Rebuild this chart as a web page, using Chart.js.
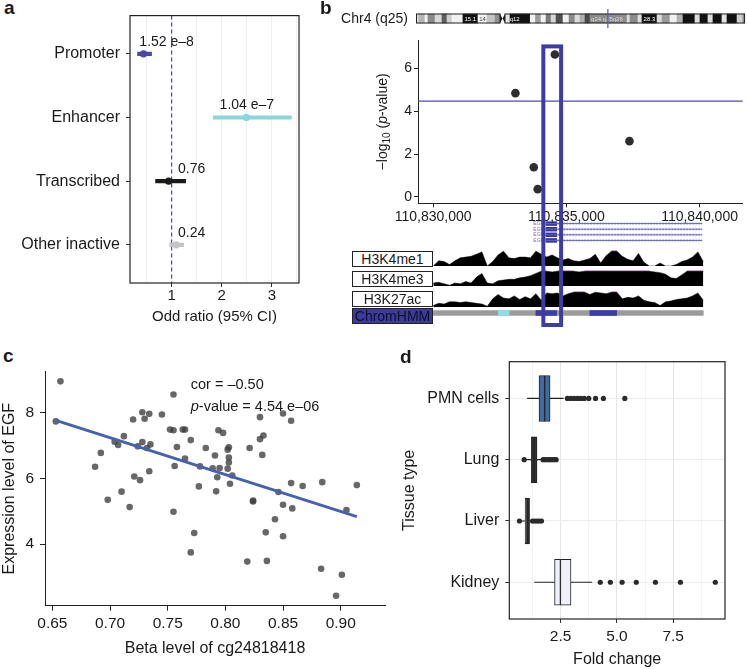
<!DOCTYPE html>
<html>
<head>
<meta charset="utf-8">
<script src="https://cdn.jsdelivr.net/npm/chart.js@4.4.1/dist/chart.umd.min.js"></script>
<style>
    body { margin: 0; background: #fff; font-family: "Liberation Sans", Arial, sans-serif; color: #1a1a1a; }
    #page { position: relative; width: 747px; height: 669px; overflow: hidden; }
    canvas { position: absolute; }
    .panel { position: absolute; font-weight: bold; font-size: 19px; }
    .txt { position: absolute; font-size: 14px; }
    .box { position: absolute; border: 1px solid #222; box-sizing: border-box; font-size: 14px; line-height: 14px; text-align: center; background: #fff; }
</style>
</head>
<body>
<div id="page">
    <div class="panel" style="left:4px;top:-3px">a</div>
    <canvas id="chartA" width="330" height="330" style="left:0;top:0"></canvas>

    <div class="panel" style="left:320px;top:-3px">b</div>
    <div class="txt" style="left:320px;top:10px;width:88px;text-align:right">Chr4 (q25)</div>
    <canvas id="chartIdeo" width="331" height="19" style="left:416px;top:9px"></canvas>
    <canvas id="chartGene" width="417" height="28" style="left:330px;top:218px"></canvas>
    <canvas id="track1" width="417" height="16" style="left:330px;top:250px"></canvas>
    <canvas id="track2" width="417" height="16" style="left:330px;top:270px"></canvas>
    <canvas id="track3" width="417" height="16" style="left:330px;top:291px"></canvas>
    <canvas id="chartHMM" width="417" height="16" style="left:330px;top:305px"></canvas>
    <div class="box" style="left:352px;top:251px;width:81px;height:16px">H3K4me1</div>
    <div class="box" style="left:352px;top:271px;width:81px;height:16px">H3K4me3</div>
    <div class="box" style="left:352px;top:291px;width:81px;height:16px">H3K27ac</div>
    <div class="box" style="left:352px;top:308px;width:81px;height:16px;background:#3b3b9c;color:#10102a">ChromHMM</div>
    <canvas id="chartB" width="417" height="305" style="left:330px;top:30px;z-index:5"></canvas>

    <div class="panel" style="left:3px;top:345px">c</div>
    <canvas id="chartC" width="390" height="329" style="left:0;top:340px"></canvas>

    <div class="panel" style="left:400px;top:346px">d</div>
    <canvas id="chartD" width="347" height="329" style="left:400px;top:340px"></canvas>
</div>

<script>
// 🔹 Panel a: odds ratios
const categories = ['Promoter', 'Enhancer', 'Transcribed', 'Other inactive'];
const oddRatio = [0.44, 2.49, 0.94, 1.09];
const ciLow = [0.32, 1.83, 0.68, 0.96];
const ciHigh = [0.60, 3.39, 1.28, 1.24];
const pLabels = ['1.52 e\u20138', '1.04 e\u20137', '0.76', '0.24'];
const pLabelX = [0.9, 2.5, 1.4, 1.4];
const colorsA = ['#4f46a8', '#8ad6df', '#1a1a1a', '#c4c4c4'];
const ticksA = [0.5, 1, 1.5, 2, 2.5, 3, 3.5];

// 🔹 Panel b: ideogram of chr4 (Mb)
const bandEdges = [0, 1.7, 5.2, 6.9, 11.0, 15.0, 17.9, 20.8, 27.1, 35.8, 41.0, 45.6, 48.5, 51.4, 54.3, 66.0, 69.0, 72.2, 75.1, 78.0,
    80.9, 84.9, 88.4, 91.8, 94.7, 97.6, 100.5, 121.9, 123.6, 128.2, 130.5, 139.2, 142.1, 146.7, 150.7, 154.2, 161.1, 164.0, 168.6, 171.5,
    176.7, 179.6, 185.4, 188.8, 190];
const bandShade = ['#dedede', '#b5b5b5', '#f2f2f2', '#8a8a8a', '#d9d9d9', '#5e5e5e', '#cfcfcf', '#f2f2f2', '#111111', '#f7f7f7',
    '#c4c4c4', '#8f8f8f', null, '#e6e6e6', '#111111', '#f2f2f2', '#9c9c9c', '#f2f2f2', '#7a7a7a', '#d6d6d6',
    '#4f4f4f', '#f2f2f2', '#8a8a8a', '#dcdcdc', '#b0b0b0', '#4a4a4a', '#8c8c8c', '#dcdcdc', '#8a8a8a', '#e0e0e0',
    '#111111', '#dadada', '#9a9a9a', '#f2f2f2', '#b3b3b3', '#111111', '#dcdcdc', '#111111', '#dcdcdc', '#111111',
    '#e4e4e4', '#111111', '#cfcfcf', '#8a8a8a'];
const centromere = [48.5, 51.4];
const chrLength = 190;
const bandLabels = ['15.1', '14', 'q12', 'q24', 'q25', 'q26', '28.3'];
const bandLabelPos = [31.4, 38.4, 57.0, 104.0, 110.8, 116.5, 134.8];
const locusMb = 110.8;

// 🔹 Panel b: association around EGF
const snpPos = [110833089, 110834570, 110833778, 110833926, 110837370];
const snpLogP = [4.84, 6.64, 1.38, 0.36, 2.60];
const threshold = 4.47;
const regionMin = 110829433;
const regionMax = 110841619;
const regionTicks = [110830000, 110835000, 110840000];
const highlight = [110834137, 110834804];
const highlightTop = 7.02;
const logPTicks = [0, 2, 4, 6];

// 🔹 Panel b: EGF transcripts
const transcripts = ['EGF', 'EGF', 'EGF', 'EGF'];
const geneStart = 110834160;
const exonEnd = 110834580;
const geneEnd = 110839960;

// 🔹 Panel b: histone tracks (kb from 110,830,000, relative signal)
const regionBase = 110830000;
const trackKb = [0, 0.2, 0.4, 0.6, 0.8, 1.0, 1.2, 1.4, 1.6, 1.8, 2.0, 2.2, 2.4, 2.6, 2.8, 3.0, 3.2, 3.4, 3.6, 3.8,
    4.0, 4.2, 4.4, 4.6, 4.8, 5.0, 5.2, 5.4, 5.6, 5.8, 6.0, 6.2, 6.4, 6.6, 6.8, 7.0, 7.2, 7.4, 7.6, 7.8,
    8.0, 8.2, 8.4, 8.6, 8.8, 9.0, 9.2, 9.4, 9.6, 9.8, 10.0];
const h3k4me1 = [0, 0.35, 0.3, 0.1, 0.35, 0.55, 0.6, 0.65, 0.8, 0.95, 0, 0.3, 0.75, 1, 0.55, 0.5, 0.6, 0.6, 0.55, 1,
    0.8, 0.6, 0.75, 0.55, 0.4, 0.5, 0.35, 0.3, 0.4, 0.5, 0.8, 0.2, 0.7, 1, 1, 0.65, 0.45, 0.35, 0.85, 0.25,
    0, 0, 0.2, 0, 0, 0.1, 0.3, 0.4, 0.6, 0.95, 0.3];
const h3k4me3 = [0.2, 0.25, 0.15, 0.05, 0.2, 0.15, 0.3, 0.2, 0.6, 0.85, 0.2, 0.15, 0.35, 0.4, 0.45, 0.45, 0.55, 0.6, 0.7, 0.85,
    1, 1, 0.95, 1, 1, 1, 1, 0.95, 1, 1, 1, 1, 1, 1, 1, 1, 1, 1, 1, 1,
    1, 0.95, 0.9, 0.8, 0.55, 0.5, 0.75, 1, 1, 1, 1];
const h3k27ac = [0.1, 0.25, 0.2, 0.35, 0.35, 0.3, 0.35, 0.3, 0.25, 0.2, 0.05, 0.55, 0.85, 0.6, 0.55, 0.75, 0.5, 0.7, 0.55, 0.9,
    0.45, 0.95, 0.9, 0.95, 0.75, 0.9, 1, 1, 1, 0.85, 1, 0.95, 0.9, 1, 1, 0.55, 0.65, 0.6, 0.75, 0.45,
    0.35, 0.3, 0.1, 0.35, 0.4, 0.5, 0.55, 0.6, 0.75, 0.95, 0.45];
const chromStart = [0, 2.41, 3.80, 5.80];
const chromEnd = [10, 2.81, 4.57, 6.79];
const chromColor = ['#9b9b9b', '#8fdde6', '#3d3daa', '#3d3daa'];

// 🔹 Panel c: methylation vs expression
const betaLevel = [0.657, 0.653, 0.692, 0.687, 0.698, 0.704, 0.707, 0.712, 0.710, 0.717,
    0.720, 0.721, 0.724, 0.726, 0.728, 0.728, 0.730, 0.732, 0.734, 0.734,
    0.735, 0.745, 0.752, 0.755, 0.755, 0.755, 0.756, 0.758, 0.763, 0.765,
    0.765, 0.770, 0.770, 0.773, 0.777, 0.778, 0.783, 0.789, 0.791, 0.792,
    0.793, 0.794, 0.795, 0.798, 0.802, 0.803, 0.803, 0.803, 0.802, 0.804,
    0.806, 0.821, 0.824, 0.824, 0.830, 0.830, 0.833, 0.832, 0.835, 0.836,
    0.819, 0.843, 0.846, 0.850, 0.850, 0.850, 0.857, 0.857, 0.858, 0.867,
    0.884, 0.883, 0.901, 0.896, 0.905, 0.914];
const exprLevel = [8.96, 7.74, 6.78, 6.36, 5.35, 7.12, 7.02, 7.29, 5.60, 5.13,
    7.80, 6.06, 6.98, 5.95, 8.02, 7.11, 7.82, 6.93, 7.97, 6.22,
    7.04, 7.95, 7.49, 8.56, 7.47, 4.99, 6.38, 6.96, 7.49, 7.49,
    6.61, 7.17, 3.75, 4.34, 5.76, 6.37, 6.93, 6.31, 6.70, 5.61,
    6.04, 7.47, 6.32, 7.39, 6.88, 6.95, 6.64, 6.49, 6.30, 5.84,
    6.09, 6.93, 5.30, 5.33, 7.87, 7.20, 7.31, 6.72, 4.36, 3.49,
    3.47, 4.76, 5.59, 7.98, 5.20, 4.24, 5.86, 7.76, 5.09, 5.77,
    5.89, 3.25, 3.07, 2.43, 5.04, 5.80];
const fitX = [0.653, 0.914];
const fitY = [7.77, 4.84];
const betaTicks = [0.65, 0.70, 0.75, 0.80, 0.85, 0.90];
const exprTicks = [4, 6, 8];

// 🔹 Panel d: fold change per tissue
const tissues = ['PMN cells', 'Lung', 'Liver', 'Kidney'];
const boxQ1 = [1.54, 1.20, 0.92, 2.23];
const boxMedian = [1.79, 1.32, 1.00, 2.49];
const boxQ3 = [2.03, 1.45, 1.12, 2.96];
const whiskerLow = [1.01, 0.95, 0.78, 1.33];
const whiskerHigh = [2.63, 1.67, 1.22, 3.90];
const outliers = [
    [2.8, 2.95, 3.1, 3.25, 3.4, 3.55, 3.75, 4.05, 4.4, 5.35],
    [0.88, 1.72, 1.8, 1.9, 2.0, 2.1, 2.2, 2.3],
    [0.67, 1.25, 1.35, 1.45, 1.55, 1.65],
    [4.26, 4.71, 5.23, 5.86, 6.71, 7.82, 9.37]
];
const boxFill = ['#3b6ca6', '#333333', '#2b2b2b', '#eef0fa'];
const foldTicks = [1.25, 2.5, 3.75, 5, 6.25, 7.5, 8.75];

// 🔹 Defaults
const FONT = "'Liberation Sans', Arial, sans-serif";
Chart.defaults.font.family = FONT;
Chart.defaults.font.size = 14;
Chart.defaults.color = '#1a1a1a';
Chart.defaults.animation = false;
Chart.defaults.responsive = false;
Chart.defaults.plugins.legend.display = false;
Chart.defaults.plugins.tooltip.enabled = false;

const toTicks = list => s => { s.ticks = list.map(v => ({ value: v })); };
const withCommas = v => String(v).replace(/\B(?=(\d{3})+(?!\d))/g, ',');

const frame = {
    id: 'frame',
    afterDraw(chart) {
        const { ctx, chartArea: a } = chart;
        ctx.save();
        ctx.strokeStyle = '#222';
        ctx.lineWidth = 1.2;
        ctx.strokeRect(a.left, a.top, a.right - a.left, a.bottom - a.top);
        ctx.restore();
    }
};

// 🔸 Panel a
const extrasA = {
    id: 'extrasA',
    beforeDatasetsDraw(chart) {
        const { ctx, chartArea: a, scales: { x } } = chart;
        const px = x.getPixelForValue(1);
        ctx.save();
        ctx.strokeStyle = '#4b4ba8';
        ctx.lineWidth = 1.2;
        ctx.setLineDash([4, 3]);
        ctx.beginPath();
        ctx.moveTo(px, a.top);
        ctx.lineTo(px, a.bottom);
        ctx.stroke();
        ctx.restore();
    },
    afterDraw(chart) {
        const { ctx, scales: { x, y } } = chart;
        ctx.save();
        ctx.font = '14px ' + FONT;
        ctx.fillStyle = '#1a1a1a';
        ctx.textAlign = 'center';
        ctx.textBaseline = 'middle';
        pLabels.forEach((t, i) => {
            ctx.fillText(t, x.getPixelForValue(pLabelX[i]), y.getPixelForValue(i + 1) - 12);
        });
        ctx.restore();
    }
};

new Chart(document.getElementById('chartA'), {
    type: 'bar',
    data: {
        datasets: [
            {
                type: 'bar',
                data: categories.map((c, i) => ({ x: [ciLow[i], ciHigh[i]], y: i + 1 })),
                backgroundColor: colorsA,
                barThickness: 3.5,
                grouped: false
            },
            {
                type: 'scatter',
                data: categories.map((c, i) => ({ x: oddRatio[i], y: i + 1 })),
                backgroundColor: colorsA,
                borderWidth: 0,
                pointRadius: 3.6
            }
        ]
    },
    options: {
        indexAxis: 'y',
        layout: { padding: { top: 10, right: 31, left: 0, bottom: 0 } },
        scales: {
            x: {
                type: 'linear', min: 0.17, max: 3.54,
                afterBuildTicks: toTicks(ticksA),
                afterFit: s => { s.height = 47; },
                ticks: { callback: v => Number.isInteger(v) ? String(v) : '', font: { size: 15 }, padding: 0, autoSkip: false, maxRotation: 0 },
                grid: { color: '#efefef', tickLength: 4, tickColor: c => Number.isInteger(c.tick && c.tick.value) ? '#333' : 'rgba(0,0,0,0)' },
                border: { display: false },
                title: { display: true, text: 'Odd ratio (95% CI)', font: { size: 15 }, padding: { top: 0, bottom: 4 } }
            },
            y: {
                type: 'linear', min: 0.4, max: 4.6, reverse: true, offset: false,
                afterBuildTicks: toTicks([1, 2, 3, 4]),
                afterFit: s => { s.width = 130; },
                ticks: { callback: v => categories[v - 1], font: { size: 16 }, padding: 6, autoSkip: false },
                grid: { drawOnChartArea: false, offset: false, tickLength: 4, tickColor: '#333' },
                border: { display: false }
            }
        }
    },
    plugins: [extrasA, frame]
});

// 🔸 Panel b: ideogram
const ideoExtras = {
    id: 'ideoExtras',
    afterDatasetsDraw(chart) {
        const { ctx, scales: { x, y } } = chart;
        const yc = y.getPixelForValue(0);
        const h = 4.5;
        const x0 = x.getPixelForValue(0), x1 = x.getPixelForValue(chrLength);
        const cA = x.getPixelForValue(centromere[0]), cB = x.getPixelForValue(centromere[1]);
        const mid = (cA + cB) / 2;
        ctx.save();
        ctx.strokeStyle = '#222';
        ctx.lineWidth = 1;
        ctx.strokeRect(x0 + 0.5, yc - h, cA - x0 - 0.5, 2 * h);
        ctx.strokeRect(cB, yc - h, x1 - cB - 0.5, 2 * h);
        ctx.fillStyle = '#222';
        [cA, cB].forEach(edge => {
            ctx.beginPath();
            ctx.moveTo(edge, yc - h);
            ctx.lineTo(mid, yc);
            ctx.lineTo(edge, yc + h);
            ctx.closePath();
            ctx.fill();
        });
        ctx.font = '6px ' + FONT;
        ctx.textAlign = 'center';
        ctx.textBaseline = 'middle';
        bandLabels.forEach((t, i) => {
            const p = bandLabelPos[i];
            let k = 0;
            while (k < bandShade.length - 1 && bandEdges[k + 1] <= p) k++;
            const shade = bandShade[k] || '#fff';
            ctx.fillStyle = parseInt(shade.slice(1, 3), 16) < 0x70 ? '#fff' : (parseInt(shade.slice(1, 3), 16) < 0xb0 ? '#d8d8d8' : '#444');
            ctx.fillText(t, x.getPixelForValue(p), yc + 0.5);
        });
        const mx = x.getPixelForValue(locusMb);
        ctx.strokeStyle = '#5353c6';
        ctx.lineWidth = 1.2;
        ctx.beginPath();
        ctx.moveTo(mx, 0);
        ctx.lineTo(mx, chart.height);
        ctx.stroke();
        ctx.restore();
    }
};

new Chart(document.getElementById('chartIdeo'), {
    type: 'bar',
    data: {
        datasets: [{
            data: bandShade.map((c, i) => ({ x: [bandEdges[i], bandEdges[i + 1]], y: 0 })),
            backgroundColor: bandShade.map(c => c || 'rgba(0,0,0,0)'),
            barThickness: 9,
            grouped: false,
            borderWidth: 0
        }]
    },
    options: {
        indexAxis: 'y',
        layout: { padding: { left: 0, right: 2, top: 0, bottom: 0 } },
        scales: {
            x: { type: 'linear', min: 0, max: chrLength, display: false },
            y: { type: 'linear', min: -1, max: 1, offset: false, display: false }
        }
    },
    plugins: [ideoExtras]
});

// 🔸 Panel b: association plot + highlight
const extrasB = {
    id: 'extrasB',
    beforeDatasetsDraw(chart) {
        const { ctx, chartArea: a, scales: { y } } = chart;
        const py = y.getPixelForValue(threshold);
        ctx.save();
        ctx.strokeStyle = '#4d4dab';
        ctx.lineWidth = 1.2;
        ctx.beginPath();
        ctx.moveTo(a.left, py);
        ctx.lineTo(a.right, py);
        ctx.stroke();
        ctx.restore();
    },
    afterDraw(chart) {
        const { ctx, chartArea: a, scales: { x, y } } = chart;
        ctx.save();
        // y title: -log10 (p-value)
        ctx.translate(a.left - 35, (a.top + a.bottom) / 2);
        ctx.rotate(-Math.PI / 2);
        ctx.fillStyle = '#1a1a1a';
        ctx.textBaseline = 'middle';
        const parts = [['\u2212log', '14px ' + FONT, 0], ['10', '10px ' + FONT, 4], [' (', '14px ' + FONT, 0],
            ['p', 'italic 14px ' + FONT, 0], ['-value)', '14px ' + FONT, 0]];
        let total = 0;
        parts.forEach(p => { ctx.font = p[1]; total += ctx.measureText(p[0]).width; });
        let cx = -total / 2;
        parts.forEach(p => { ctx.font = p[1]; ctx.fillText(p[0], cx, p[2]); cx += ctx.measureText(p[0]).width; });
        ctx.restore();

        // highlighted region
        ctx.save();
        const l = x.getPixelForValue(highlight[0]);
        const r = x.getPixelForValue(highlight[1]);
        const t = y.getPixelForValue(highlightTop);
        ctx.strokeStyle = '#3c3ca2';
        ctx.lineWidth = 4;
        ctx.strokeRect(l, t, r - l, chart.height - 10 - t);
        ctx.restore();
    }
};

new Chart(document.getElementById('chartB'), {
    type: 'scatter',
    data: {
        datasets: [{
            data: snpPos.map((p, i) => ({ x: p, y: snpLogP[i] })),
            backgroundColor: '#2e2e2e',
            borderWidth: 0,
            pointRadius: 4.3
        }]
    },
    options: {
        layout: { padding: { left: 48, top: 10, right: 0, bottom: 106.7 } },
        scales: {
            x: {
                type: 'linear', min: regionMin, max: regionMax,
                afterBuildTicks: toTicks(regionTicks),
                afterFit: s => { s.height = 25; },
                ticks: { callback: v => withCommas(v), font: { size: 14 }, padding: 1, autoSkip: false, maxRotation: 0 },
                grid: { drawOnChartArea: false, tickLength: 4, color: '#222' },
                border: { color: '#222' }
            },
            y: {
                min: -0.3, max: 7.3,
                afterBuildTicks: toTicks(logPTicks),
                afterFit: s => { s.width = 40; },
                ticks: { font: { size: 14 }, padding: 2 },
                grid: { drawOnChartArea: false, tickLength: 4, color: '#222' },
                border: { color: '#222' }
            }
        }
    },
    plugins: [extrasB]
});

// 🔸 Panel b: gene model
const geneLabels = {
    id: 'geneLabels',
    afterDatasetsDraw(chart) {
        const { ctx, scales: { x, y } } = chart;
        ctx.save();
        ctx.font = '5px ' + FONT;
        ctx.fillStyle = '#6a6ac0';
        ctx.textAlign = 'right';
        ctx.textBaseline = 'middle';
        transcripts.forEach((t, i) => ctx.fillText(t, x.getPixelForValue(geneStart) - 2, y.getPixelForValue(i + 1)));
        ctx.restore();
    }
};

const geneSets = [];
transcripts.forEach((t, i) => {
    const row = [{ x: geneStart, y: i + 1 }, { x: geneEnd, y: i + 1 }];
    geneSets.push({ data: row, showLine: true, borderColor: '#6262c4', borderWidth: 1, pointRadius: 0 });
    geneSets.push({ data: row, showLine: true, borderColor: 'rgba(98,98,196,0.45)', borderWidth: 3, borderDash: [1, 2], pointRadius: 0 });
    geneSets.push({ data: [{ x: geneStart, y: i + 1 }, { x: exonEnd, y: i + 1 }], showLine: true, borderColor: '#30309a', borderWidth: 4.5, pointRadius: 0 });
});

new Chart(document.getElementById('chartGene'), {
    type: 'scatter',
    data: { datasets: geneSets },
    options: {
        layout: { padding: { left: 88, right: 0, top: 0, bottom: 0 } },
        scales: {
            x: { type: 'linear', min: regionMin, max: regionMax, display: false },
            y: { type: 'linear', min: 0, max: 5, reverse: true, display: false }
        }
    },
    plugins: [geneLabels]
});

// 🔸 Panel b: histone signal tracks
function makeTrack(id, values) {
    new Chart(document.getElementById(id), {
        type: 'line',
        data: {
            datasets: [
                {
                    data: trackKb.map((k, i) => ({ x: regionBase + k * 1000, y: values[i] })),
                    fill: 'origin',
                    backgroundColor: '#000',
                    borderColor: '#000',
                    borderWidth: 0.5,
                    pointRadius: 0
                },
                {
                    data: trackKb.map((k, i) => ({ x: regionBase + k * 1000, y: values[i] >= 1 ? 1 : null })),
                    fill: false,
                    borderColor: '#d58bd5',
                    borderWidth: 1.5,
                    pointRadius: 0,
                    spanGaps: false
                }
            ]
        },
        options: {
            layout: { padding: { left: 88, right: 0, top: 0, bottom: 0 } },
            scales: {
                x: { type: 'linear', min: regionMin, max: regionMax, display: false },
                y: { type: 'linear', min: 0, max: 1.08, display: false }
            }
        }
    });
}
makeTrack('track1', h3k4me1);
makeTrack('track2', h3k4me3);
makeTrack('track3', h3k27ac);

new Chart(document.getElementById('chartHMM'), {
    type: 'bar',
    data: {
        datasets: [{
            data: chromStart.map((s, i) => ({ x: [regionBase + s * 1000, regionBase + chromEnd[i] * 1000], y: 0 })),
            backgroundColor: chromColor,
            barThickness: 5,
            grouped: false,
            borderWidth: 0
        }]
    },
    options: {
        indexAxis: 'y',
        layout: { padding: { left: 88, right: 0, top: 0, bottom: 0 } },
        scales: {
            x: { type: 'linear', min: regionMin, max: regionMax, display: false },
            y: { type: 'linear', min: -1, max: 1, offset: false, display: false }
        }
    }
});

// 🔸 Panel c
const extrasC = {
    id: 'extrasC',
    afterDraw(chart) {
        const { ctx, scales: { x, y } } = chart;
        const px = x.getPixelForValue(0.77);
        ctx.save();
        ctx.fillStyle = '#1a1a1a';
        ctx.textBaseline = 'middle';
        ctx.font = '14.5px ' + FONT;
        ctx.fillText('cor = \u20130.50', px, y.getPixelForValue(8.84));
        ctx.font = 'italic 14.5px ' + FONT;
        ctx.fillText('p', px, y.getPixelForValue(8.19));
        const w = ctx.measureText('p').width;
        ctx.font = '14.5px ' + FONT;
        ctx.fillText('-value = 4.54 e\u201306', px + w, y.getPixelForValue(8.19));
        ctx.restore();
    }
};

new Chart(document.getElementById('chartC'), {
    type: 'scatter',
    data: {
        datasets: [
            {
                data: fitX.map((v, i) => ({ x: v, y: fitY[i] })),
                showLine: true,
                borderColor: '#4462b0',
                borderWidth: 3,
                pointRadius: 0,
                order: 0
            },
            {
                data: betaLevel.map((v, i) => ({ x: v, y: exprLevel[i] })),
                backgroundColor: 'rgba(60,60,60,0.78)',
                borderWidth: 0,
                pointRadius: 3.3,
                order: 1
            }
        ]
    },
    options: {
        layout: { padding: { left: 0, top: 31.7, right: 5, bottom: 0 } },
        scales: {
            x: {
                type: 'linear', min: 0.6436, max: 0.9384,
                afterBuildTicks: toTicks(betaTicks),
                afterFit: s => { s.height = 63.3; },
                ticks: { callback: v => v.toFixed(2), font: { size: 15.5 }, padding: 4, autoSkip: false, maxRotation: 0 },
                grid: { drawOnChartArea: false, tickLength: 5, color: '#222' },
                border: { color: '#222' },
                title: { display: true, text: 'Beta level of cg24818418', font: { size: 16 }, padding: { top: 0, bottom: 11 } }
            },
            y: {
                min: 2.126, max: 9.254,
                afterBuildTicks: toTicks(exprTicks),
                afterFit: s => { s.width = 45; },
                ticks: { font: { size: 15.5 }, padding: 6 },
                grid: { drawOnChartArea: false, tickLength: 5, color: '#222' },
                border: { color: '#222' },
                title: { display: true, text: 'Expression level of EGF', font: { size: 16 }, padding: 0 }
            }
        }
    },
    plugins: [extrasC]
});

// 🔸 Panel d
const boxSets = [
    {
        type: 'bar',
        data: tissues.map((t, i) => ({ x: [boxQ1[i], boxMedian[i]], y: i + 1 })),
        backgroundColor: boxFill, borderColor: '#222', borderWidth: 1, borderSkipped: false,
        barThickness: 46, grouped: false
    },
    {
        type: 'bar',
        data: tissues.map((t, i) => ({ x: [boxMedian[i], boxQ3[i]], y: i + 1 })),
        backgroundColor: boxFill, borderColor: '#222', borderWidth: 1, borderSkipped: false,
        barThickness: 46, grouped: false
    },
    {
        type: 'scatter',
        data: outliers.flatMap((arr, i) => arr.map(v => ({ x: v, y: i + 1 }))),
        backgroundColor: '#2a2a2a', borderWidth: 0, pointRadius: 2.6
    }
];
tissues.forEach((t, i) => {
    boxSets.push({ type: 'scatter', showLine: true, borderColor: '#222', borderWidth: 1.2, pointRadius: 0,
        data: [{ x: whiskerLow[i], y: i + 1 }, { x: boxQ1[i], y: i + 1 }] });
    boxSets.push({ type: 'scatter', showLine: true, borderColor: '#222', borderWidth: 1.2, pointRadius: 0,
        data: [{ x: boxQ3[i], y: i + 1 }, { x: whiskerHigh[i], y: i + 1 }] });
});

new Chart(document.getElementById('chartD'), {
    type: 'bar',
    data: { datasets: boxSets },
    options: {
        indexAxis: 'y',
        layout: { padding: { left: 0, top: 21.7, right: 22, bottom: 0 } },
        scales: {
            x: {
                type: 'linear', min: 0.22, max: 9.8,
                afterBuildTicks: toTicks(foldTicks),
                afterFit: s => { s.height = 50; },
                ticks: { callback: v => [2.5, 5, 7.5].includes(v) ? v.toFixed(1) : '', font: { size: 15.5 }, padding: 4, autoSkip: false, maxRotation: 0 },
                grid: {
                    tickLength: 4,
                    color: c => c.tick && [2.5, 5, 7.5].includes(c.tick.value) ? '#e6e6e6' : '#f3f3f3',
                    tickColor: c => c.tick && [2.5, 5, 7.5].includes(c.tick.value) ? '#333' : 'rgba(0,0,0,0)'
                },
                border: { display: false },
                title: { display: true, text: 'Fold change', font: { size: 16 }, padding: { top: 0, bottom: 0 } }
            },
            y: {
                type: 'linear', min: 0.4, max: 4.6, reverse: true, offset: false,
                afterBuildTicks: toTicks([1, 2, 3, 4]),
                afterFit: s => { s.width = 109.3; },
                ticks: { callback: v => tissues[v - 1], font: { size: 16 }, padding: 6, autoSkip: false },
                grid: { offset: false, color: '#ebebeb', tickLength: 4, tickColor: '#333' },
                border: { display: false },
                title: { display: true, text: 'Tissue type', font: { size: 16 }, padding: 0 }
            }
        }
    },
    plugins: [frame]
});
</script>
</body>
</html>
